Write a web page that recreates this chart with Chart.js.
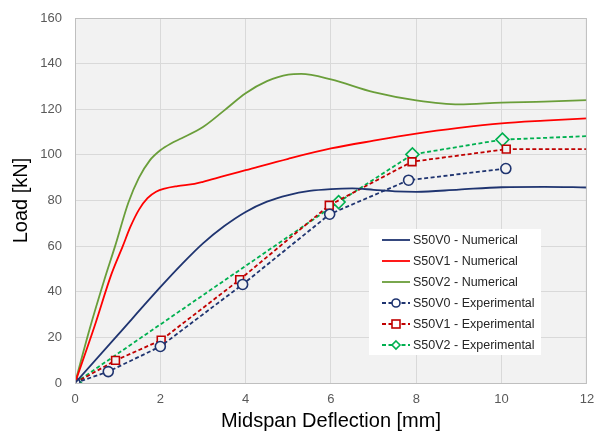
<!DOCTYPE html>
<html>
<head>
<meta charset="utf-8">
<script src="https://cdn.jsdelivr.net/npm/chart.js@4"></script>
<style>
  body { margin: 0; background: #fff; }
  #wrap { width: 595px; height: 433px; }
</style>
</head>
<body>
<div id="wrap"><canvas id="loadChart" width="595" height="433"></canvas></div>
<script>
// numerical curves (deflection mm, load kN)
const numV0X = [0, 1, 2, 2.5, 3, 3.5, 4, 4.5, 5, 5.5, 6, 6.5, 7, 7.5, 8, 9, 10, 11, 12];
const numV0Y = [0, 21, 42, 52, 61.2, 68.8, 75, 79.5, 82.4, 84.2, 85, 85.3, 84.7, 84, 83.8, 84.8, 85.8, 86, 85.7];
const numV1X = [0, 0.46, 0.85, 1.12, 1.3, 1.5, 1.7, 1.9, 2.1, 2.4, 2.8, 3, 3.5, 4, 5, 6, 7, 8, 9, 10, 11, 12];
const numV1Y = [0, 25, 47.5, 60, 68.5, 76, 81, 83.8, 85.2, 86.3, 87.3, 88.2, 90.8, 93.3, 98.3, 102.8, 106.2, 109.3, 111.8, 113.8, 115, 116];
const numV2X = [0, 0.34, 0.69, 0.94, 1.25, 1.5, 1.75, 2, 2.25, 2.5, 3, 3.5, 4, 4.5, 5, 5.3, 6, 7, 8, 9, 10, 11, 12];
const numV2Y = [0, 23.5, 45.4, 60, 79, 90, 97.5, 102, 105, 107.3, 112.2, 119.5, 127, 132.3, 135.2, 135.5, 133.1, 127.5, 123.9, 122.1, 122.9, 123.3, 124];

// experimental points
const expV0X = [0, 0.78, 2.0, 3.93, 5.97, 7.82, 10.1];
const expV0Y = [0, 5, 16, 43.2, 74, 88.9, 94];
const expV1X = [0, 0.95, 2.02, 3.86, 5.96, 7.9, 10.11, 12];
const expV1Y = [0, 9.9, 18.8, 45.3, 77.9, 97, 102.5, 102.5];
const expV2X = [0, 6.18, 7.91, 10.02, 12];
const expV2Y = [0, 79.3, 100.2, 106.7, 108.2];

const seriesNames = [
  "S50V0 - Numerical", "S50V1 - Numerical", "S50V2 - Numerical",
  "S50V0 - Experimental", "S50V1 - Experimental", "S50V2 - Experimental"
];

const xTicks = [0, 2, 4, 6, 8, 10, 12];
const yTicks = [0, 20, 40, 60, 80, 100, 120, 140, 160];

function pts(xs, ys) {
  return xs.map((x, i) => ({ x: x, y: ys[i] }));
}

// last experimental point sitting on the right edge has no marker
function radii(xs, r) {
  return xs.map(x => (x >= 12 ? 0 : r));
}

const numStyle = (color) => ({
  borderColor: color,
  borderWidth: 1.8,
  pointRadius: 0,
  cubicInterpolationMode: "monotone",
  fill: false
});

const expStyle = (color, shape, r, xs) => ({
  borderColor: color,
  backgroundColor: "#ffffff",
  borderWidth: 1.8,
  borderDash: [4, 2.5],
  pointStyle: shape,
  pointRadius: radii(xs, r),
  pointBorderWidth: 1.6,
  pointBackgroundColor: "#f2f2f2",
  pointBorderColor: color,
  tension: 0,
  fill: false
});

const plotArea = {
  id: "plotArea",
  beforeDraw(chart) {
    const { ctx, chartArea: a } = chart;
    ctx.save();
    ctx.fillStyle = "#f2f2f2";
    ctx.fillRect(a.left, a.top, a.width, a.height);
    ctx.restore();
  },
  afterDraw(chart) {
    const { ctx, chartArea: a } = chart;
    ctx.save();
    ctx.strokeStyle = "#bfbfbf";
    ctx.lineWidth = 1;
    ctx.strokeRect(a.left + 0.5, a.top + 0.5, a.width - 1, a.height);

    // legend box inside the plot
    const bx = a.left + 294, by = a.top + 211, bw = 172, bh = 126;
    ctx.fillStyle = "#ffffff";
    ctx.fillRect(bx, by, bw, bh);
    ctx.font = "12.5px 'Liberation Sans', Arial, sans-serif";
    ctx.textBaseline = "middle";
    chart.data.datasets.forEach((ds, i) => {
      const cy = by + 11 + i * 21;
      const x0 = bx + 13, x1 = bx + 41;
      ctx.strokeStyle = ds.borderColor;
      ctx.lineWidth = 1.8;
      ctx.setLineDash(ds.borderDash || []);
      ctx.beginPath();
      ctx.moveTo(x0, cy);
      ctx.lineTo(x1, cy);
      ctx.stroke();
      ctx.setLineDash([]);
      if (ds.pointStyle) {
        ctx.lineWidth = 1.6;
        ctx.fillStyle = "#ffffff";
        const cx = (x0 + x1) / 2;
        if (ds.pointStyle === "circle") {
          ctx.beginPath(); ctx.arc(cx, cy, 4, 0, Math.PI * 2); ctx.fill(); ctx.stroke();
        } else if (ds.pointStyle === "rect") {
          ctx.fillRect(cx - 4, cy - 4, 8, 8); ctx.strokeRect(cx - 4, cy - 4, 8, 8);
        } else {
          ctx.beginPath();
          ctx.moveTo(cx, cy - 4); ctx.lineTo(cx + 4, cy); ctx.lineTo(cx, cy + 4); ctx.lineTo(cx - 4, cy);
          ctx.closePath(); ctx.fill(); ctx.stroke();
        }
      }
      ctx.fillStyle = "#262626";
      ctx.fillText(ds.label, x1 + 3, cy + 0.5);
    });
    ctx.restore();
  }
};

const ctx = document.getElementById("loadChart").getContext("2d");

new Chart(ctx, {
  type: "line",
  data: {
    datasets: [
      { label: seriesNames[0], data: pts(numV0X, numV0Y), ...numStyle("#1f3470") },
      { label: seriesNames[1], data: pts(numV1X, numV1Y), ...numStyle("#ff0000") },
      { label: seriesNames[2], data: pts(numV2X, numV2Y), ...numStyle("#6a9e3a") },
      { label: seriesNames[3], data: pts(expV0X, expV0Y), ...expStyle("#1f3470", "circle", 5, expV0X) },
      { label: seriesNames[4], data: pts(expV1X, expV1Y), ...expStyle("#c00000", "rect", 5.5, expV1X) },
      { label: seriesNames[5], data: pts(expV2X, expV2Y), ...expStyle("#00b050", "rectRot", 6.5, expV2X) }
    ]
  },
  options: {
    responsive: false,
    animation: false,
    layout: { padding: { top: 18, right: 8, left: 0, bottom: 0 } },
    plugins: {
      legend: { display: false },
      tooltip: { enabled: false }
    },
    scales: {
      x: {
        type: "linear",
        min: 0,
        max: 12,
        afterFit: (s) => { s.height = 50; s.paddingRight = 0; s.paddingLeft = 0; },
        afterBuildTicks: (s) => { s.ticks = xTicks.map(v => ({ value: v })); },
        ticks: {
          color: "#595959",
          padding: 9,
          font: { size: 13, family: "'Liberation Sans', Arial, sans-serif" }
        },
        grid: { color: "#d9d9d9", lineWidth: 1, drawTicks: false },
        border: { display: false },
        title: {
          display: true,
          text: "Midspan Deflection [mm]",
          color: "#000000",
          padding: { top: 0, bottom: 0 },
          font: { size: 20, family: "'Liberation Sans', Arial, sans-serif" }
        }
      },
      y: {
        min: 0,
        max: 160,
        afterFit: (s) => { s.width = 75; s.paddingTop = 0; s.paddingBottom = 0; },
        afterBuildTicks: (s) => { s.ticks = yTicks.map(v => ({ value: v })); },
        ticks: {
          color: "#595959",
          padding: 13,
          font: { size: 13, family: "'Liberation Sans', Arial, sans-serif" }
        },
        grid: { color: "#d9d9d9", lineWidth: 1, drawTicks: false },
        border: { display: false },
        title: {
          display: true,
          text: "Load [kN]",
          color: "#000000",
          padding: { top: 9, bottom: 0 },
          font: { size: 20, family: "'Liberation Sans', Arial, sans-serif" }
        }
      }
    }
  },
  plugins: [plotArea]
});
</script>
</body>
</html>
